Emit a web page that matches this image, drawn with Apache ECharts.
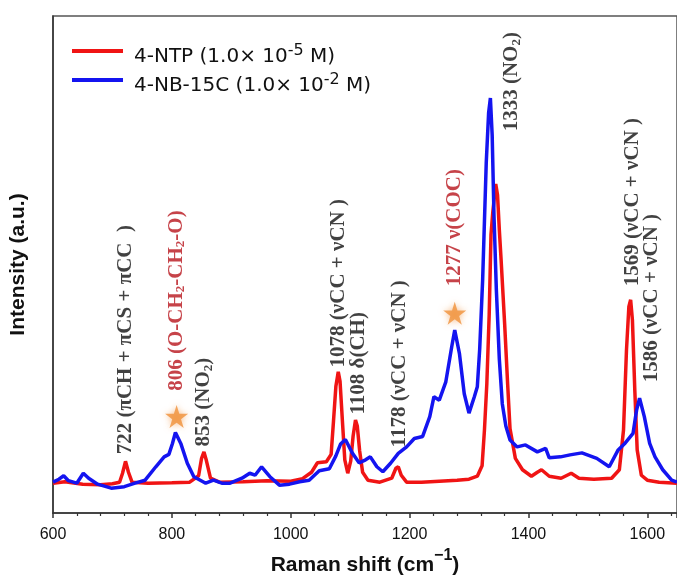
<!DOCTYPE html>
<html><head><meta charset="utf-8">
<script src="https://cdn.jsdelivr.net/npm/echarts@6/dist/echarts.min.js"></script>
<style>html,body{margin:0;padding:0;background:#fff}#c{width:677px;height:581px}</style>
</head><body><div id="c"></div>
<script>
// ---- data (Raman shift cm^-1, intensity a.u.) ----
const ntpPoints = [[600,6.0],[620,6.3],[650,5.8],[680,5.7],[700,5.9],[712,6.2],[717,8.0],[722,10.4],[727,8.2],[733,6.2],[760,6.0],[800,6.1],[830,6.2],[845,7.5],[850,11.0],[854,12.3],[858,10.6],[865,7.0],[880,6.2],[920,6.3],[960,6.5],[1000,6.4],[1020,6.9],[1035,8.2],[1045,10.1],[1060,10.3],[1068,11.8],[1072,18.5],[1076,25.5],[1080,28.4],[1083,26.5],[1087,18.5],[1091,10.7],[1096,8.0],[1101,10.5],[1105,15.5],[1109,18.7],[1112,17.5],[1116,12.5],[1121,8.2],[1130,6.6],[1150,6.2],[1170,7.0],[1177,9.0],[1181,9.3],[1186,7.6],[1195,6.2],[1220,6.2],[1250,6.4],[1280,6.6],[1300,6.8],[1314,7.4],[1322,9.5],[1326,16.7],[1330,26.0],[1334,40.0],[1337,56.0],[1340,60.5],[1345,66.2],[1348,64.0],[1351,57.0],[1354,51.0],[1360,38.0],[1365,26.0],[1369,17.0],[1378,11.0],[1390,8.7],[1405,7.4],[1415,8.2],[1422,8.7],[1435,7.4],[1455,7.0],[1472,8.0],[1485,7.0],[1510,6.8],[1540,7.0],[1553,8.7],[1560,16.7],[1565,32.8],[1569,41.5],[1572,42.9],[1575,38.8],[1579,24.7],[1583,12.7],[1590,7.6],[1600,6.6],[1620,6.2],[1650,6.0]];
const nbPoints = [[600,6.2],[610,6.8],[618,7.5],[626,6.5],[640,6.0],[651,8.0],[660,7.0],[675,5.8],[698,5.0],[720,5.3],[738,6.0],[755,6.6],[773,9.3],[787,11.3],[795,11.8],[801,14.0],[806,16.2],[815,14.0],[826,10.0],[837,7.3],[857,6.0],[870,6.6],[884,6.0],[898,6.0],[918,7.0],[931,8.0],[940,7.6],[951,9.3],[965,7.3],[981,5.6],[998,5.8],[1015,6.3],[1031,6.6],[1048,8.5],[1065,8.9],[1076,11.5],[1084,13.9],[1092,14.8],[1104,12.0],[1115,10.1],[1126,10.7],[1134,11.3],[1145,9.3],[1155,8.3],[1168,10.0],[1181,12.0],[1195,13.3],[1208,15.0],[1222,15.4],[1234,19.4],[1241,23.4],[1250,22.7],[1261,26.4],[1271,33.5],[1276,36.8],[1284,32.0],[1292,24.0],[1300,20.1],[1309,23.4],[1314,25.4],[1318,33.0],[1323,47.0],[1329,70.4],[1333,80.5],[1336,83.5],[1339,76.0],[1342,60.0],[1346,45.0],[1351,31.0],[1356,22.0],[1362,17.5],[1369,14.7],[1381,13.3],[1395,13.7],[1415,12.3],[1429,13.0],[1435,11.1],[1454,11.3],[1470,11.7],[1490,12.1],[1515,11.0],[1536,9.3],[1551,12.7],[1563,14.1],[1576,16.0],[1582,20.7],[1587,23.1],[1595,19.4],[1604,14.0],[1613,11.3],[1626,8.7],[1641,6.6],[1650,6.2]];

const seriesNames = ['4-NTP', '4-NB-15C'];
const concExponent = ['-5', '-2'];

const peakLabels = ['722 (πCH + πCS + πCC  )', '806 (O-CH_2-CH_2-O)', '853 (NO_2)', '1078 (νCC + νCN )', '1108 δ(CH)', '1178 (νCC + νCN )', '1277 ν(COC)', '1333 (NO_2)', '1569 (νCC + νCN )', '1586 (νCC + νCN )'];
const peakLabelShift = [723, 808, 855, 1082, 1115, 1184, 1276, 1373, 1576, 1608];
const peakLabelBase = [11.7, 24.5, 13.3, 29.2, 19.7, 13.1, 45.5, 76.7, 45.5, 26.2];

const starShift = [808, 1276];
const starLevel = [19.4, 40.2];

const xTicks = [600, 800, 1000, 1200, 1400, 1600];

// ---- presentation ----
const highlighted = new Set(['806 (O-CH_2-CH_2-O)', '1277 ν(COC)']);
function toRich(s) {
  return '{t|' + s.replace(/_(\d)/g, '}{sub|$1}{t|') + '}';
}
const serif = 'Liberation Serif';
function labelRich(color) {
  return {
    t: {fontFamily: serif, fontWeight: 'bold', fontSize: 21, color: color, lineHeight: 22, verticalAlign: 'middle'},
    sub: {fontFamily: serif, fontWeight: 'bold', fontSize: 13, color: color, lineHeight: 22, verticalAlign: 'bottom'}
  };
}

const chart = echarts.init(document.getElementById('c'), null, {renderer: 'canvas'});
const starPath = 'path://M50,0 L61.2,34.5 L97.6,34.5 L68.2,55.9 L79.4,90.5 L50,69.1 L20.6,90.5 L31.8,55.9 L2.4,34.5 L38.8,34.5 Z';

chart.setOption({
  animation: false,
  backgroundColor: '#fff',
  grid: {left: 51, top: 16, width: 630, height: 497, show: true, borderColor: '#555', borderWidth: 1.5, backgroundColor: 'transparent'},
  legend: {
    show: true, orient: 'vertical', left: 67, top: 38,
    icon: 'rect', itemWidth: 51, itemHeight: 4, itemGap: 5,
    data: seriesNames,
    formatter: function (name) {
      const i = seriesNames.indexOf(name);
      return '{a|' + name + ' (1.0× 10}{s|' + concExponent[i] + '}{a| M)}';
    },
    textStyle: {
      padding: [0, 0, 0, 6],
      rich: {
        a: {fontFamily: 'DejaVu Sans', fontSize: 20, color: '#111', lineHeight: 32, verticalAlign: 'bottom'},
        s: {fontFamily: 'DejaVu Sans', fontSize: 16, color: '#111', lineHeight: 32, verticalAlign: 'middle'}
      }
    }
  },
  xAxis: {
    type: 'value', min: 600, max: 1650, interval: 200,
    name: '{b|Raman shift (cm}{s|−1}{b|)}',
    nameLocation: 'middle', nameGap: 34,
    nameTextStyle: {
      rich: {
        b: {fontFamily: 'Liberation Sans', fontWeight: 'bold', fontSize: 21, color: '#111', lineHeight: 28, verticalAlign: 'bottom'},
        s: {fontFamily: 'Liberation Sans', fontWeight: 'bold', fontSize: 16, color: '#111', lineHeight: 28, verticalAlign: 'top'}
      }
    },
    axisLine: {show: true, lineStyle: {color: '#333', width: 1.5}},
    axisTick: {show: true, length: 5, lineStyle: {color: '#333', width: 1.5}},
    minorTick: {show: true, splitNumber: 5, length: 3, lineStyle: {color: '#333', width: 1.2}},
    splitLine: {show: false},
    axisLabel: {
      margin: 14, fontFamily: 'Liberation Sans', fontSize: 16, color: '#111',
      showMaxLabel: false,
      formatter: function (v) { return xTicks.indexOf(v) >= 0 ? String(v) : ''; }
    }
  },
  yAxis: {
    type: 'value', min: 0, max: 100,
    name: 'Intensity (a.u.)', nameLocation: 'middle', nameGap: 24,
    nameTextStyle: {fontFamily: 'Liberation Sans', fontWeight: 'bold', fontSize: 21, color: '#111'},
    axisLine: {show: true, lineStyle: {color: '#333', width: 1.5}},
    axisTick: {show: false}, axisLabel: {show: false}, splitLine: {show: false}
  },
  series: [
    {
      name: seriesNames[0], type: 'line', data: ntpPoints, showSymbol: false, symbol: 'none',
      lineStyle: {color: '#f01414', width: 3.5}, itemStyle: {color: '#f01414'}, z: 2
    },
    {
      name: seriesNames[1], type: 'line', data: nbPoints, showSymbol: false, symbol: 'none',
      lineStyle: {color: '#1414f0', width: 3.5}, itemStyle: {color: '#1414f0'}, z: 3
    },
    {
      type: 'scatter', z: 5, silent: true,
      data: starShift.map((s, i) => [s, starLevel[i]]),
      symbol: starPath, symbolSize: 23,
      itemStyle: {color: '#f0913a', shadowBlur: 6, shadowColor: 'rgba(240,145,58,0.7)'}
    },
    {
      type: 'scatter', z: 6, silent: true,
      symbolSize: 1, itemStyle: {color: 'rgba(0,0,0,0)'},
      data: peakLabels.map((t, i) => {
        const color = highlighted.has(t) ? '#b8141c' : '#111';
        return {
          name: t, value: [peakLabelShift[i], peakLabelBase[i]],
          label: {
            show: true, position: [0, 0], rotate: 90, align: 'left', verticalAlign: 'middle',
            formatter: toRich(t), rich: labelRich(color)
          }
        };
      })
    }
  ]
});
</script></body></html>
